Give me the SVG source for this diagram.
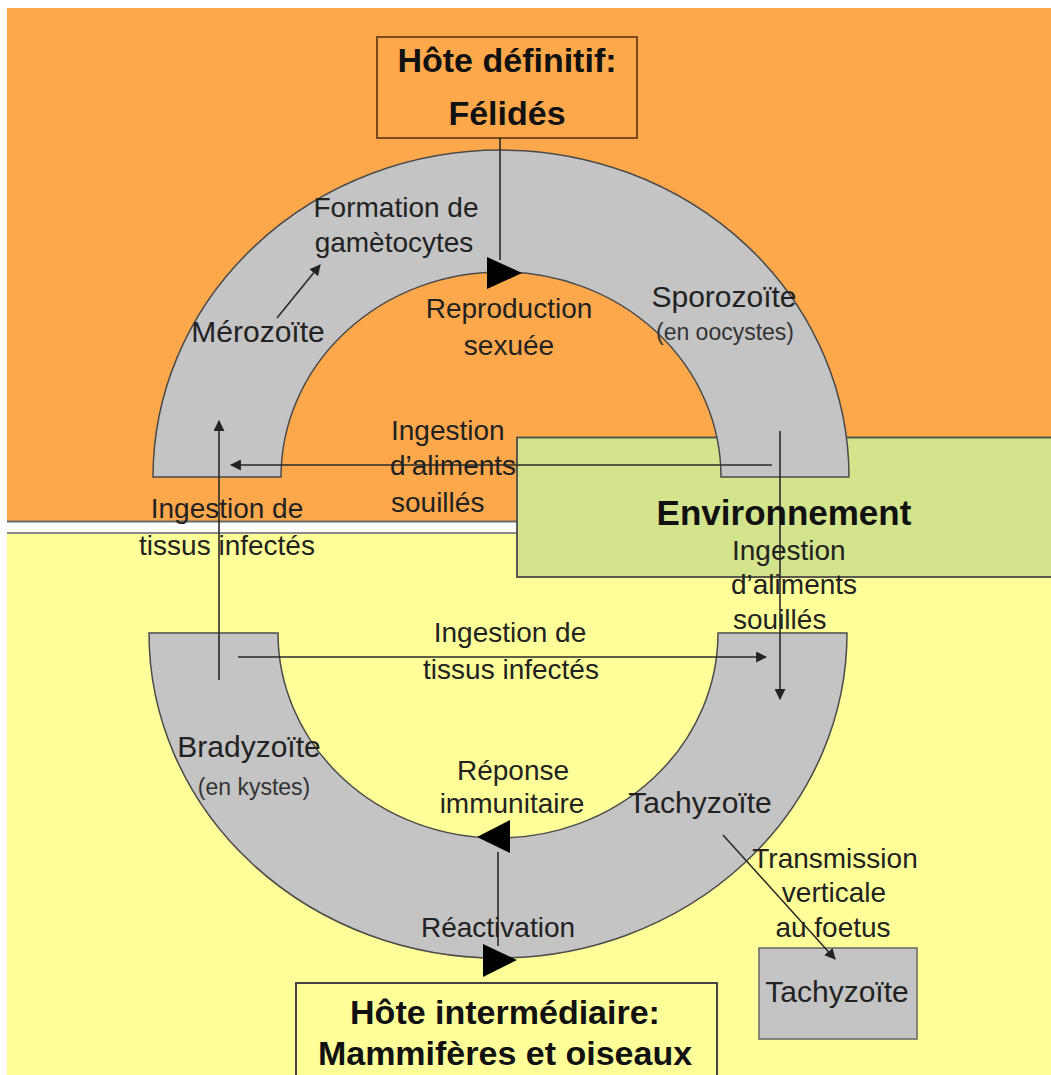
<svg xmlns="http://www.w3.org/2000/svg" width="1051" height="1075" viewBox="0 0 1051 1075">
<defs>
<style>
text { font-family: "Liberation Sans", Arial, sans-serif; fill:#222; }
.lbl { font-size:28px; }
.lg { font-size:30px; }
.sm { font-size:23px; fill:#333; }
.big { font-size:34px; font-weight:bold; fill:#111; }
.env { font-size:35px; font-weight:bold; fill:#111; }
.c { text-anchor:middle; }
.conn { stroke:#2a2a2a; stroke-width:1.6; fill:none; }
.arc { fill:#c4c4c4; stroke:#4a4a4a; stroke-width:1.5; }
.tri { fill:#000; }
</style>
<marker id="ah" viewBox="0 0 10 10" refX="9" refY="5" markerWidth="11" markerHeight="11" markerUnits="userSpaceOnUse" orient="auto"><path d="M0,0 L10,5 L0,10 z" fill="#222"/></marker>
</defs>

<g id="background">
<rect x="0" y="0" width="1051" height="1075" fill="#ffffff"/>
<rect x="7" y="8" width="1044" height="514" fill="#FDA84A"/>
<line x1="7" y1="521.5" x2="1051" y2="521.5" stroke="#6a6a6a" stroke-width="2"/>
<rect x="7" y="534" width="1044" height="541" fill="#FFFF99"/>
<line x1="7" y1="533" x2="1051" y2="533" stroke="#8a8a8a" stroke-width="2"/>
</g>

<g id="environnement">
<rect x="517" y="437.5" width="536" height="139.5" fill="#D3E48C" stroke="#4a4a4a" stroke-width="1.8"/>
</g>

<g id="hote-definitif-cycle">
<path class="arc" d="M153,477 A348,327 0 0 1 849,477 L721,477 A220,205 0 0 0 281,477 Z"/>
</g>

<g id="hote-intermediaire-cycle">
<path class="arc" d="M149,633 A349,325 0 0 0 847,633 L718,633 A220,205 0 0 1 278,633 Z"/>
</g>

<g id="hote-definitif">
<rect x="377" y="37" width="260" height="101" fill="none" stroke="#7a4a1e" stroke-width="2"/>
<text class="big c" x="507" y="72">Hôte définitif:</text>
<text class="big c" x="507" y="125">Félidés</text>
</g>

<g id="hote-intermediaire">
<rect x="296" y="983" width="421" height="100" fill="none" stroke="#444" stroke-width="2"/>
<text class="big c" x="505" y="1024">Hôte intermédiaire:</text>
<text class="big c" x="505" y="1065">Mammifères et oiseaux</text>
</g>

<g id="tachyzoite-foetus">
<rect x="759" y="948" width="158" height="91" fill="#c4c4c4" stroke="#666" stroke-width="1.5"/>
<text class="lg c" x="837" y="1002">Tachyzoïte</text>
</g>

<g id="connectors">
<line class="conn" x1="500" y1="138" x2="500" y2="260"/>
<polygon class="tri" points="487,257 522,273 487,289"/>
<line class="conn" x1="498" y1="852" x2="498" y2="946"/>
<polygon class="tri" points="510,820 477,837 510,853"/>
<polygon class="tri" points="483,944 517,960 483,977"/>
<line class="conn" x1="277" y1="318" x2="320" y2="265" marker-end="url(#ah)"/>
<line class="conn" x1="219" y1="680" x2="219" y2="421" marker-end="url(#ah)"/>
<line class="conn" x1="772" y1="465" x2="231" y2="465" marker-end="url(#ah)"/>
<line class="conn" x1="780" y1="431" x2="780" y2="699" marker-end="url(#ah)"/>
<line class="conn" x1="238" y1="657" x2="766" y2="657" marker-end="url(#ah)"/>
<line class="conn" x1="723" y1="835" x2="835" y2="959" marker-end="url(#ah)"/>
</g>

<g id="labels">
<text class="lbl c" x="396" y="217">Formation de</text>
<text class="lbl c" x="394" y="252">gamètocytes</text>
<text class="lbl c" x="258" y="342" style="font-size:30px">Mérozoïte</text>
<text class="lbl c" x="509" y="318">Reproduction</text>
<text class="lbl c" x="509" y="355">sexuée</text>
<text class="lbl c" x="724" y="307" style="font-size:30px">Sporozoïte</text>
<text class="sm c" x="725" y="340">(en oocystes)</text>
<text class="lbl" x="391" y="440">Ingestion</text>
<text class="lbl" x="390" y="475">d’aliments</text>
<text class="lbl" x="391" y="512">souillés</text>
<text class="lbl c" x="227" y="518">Ingestion de</text>
<text class="lbl c" x="227" y="555">tissus infectés</text>
<text class="env c" x="784" y="525">Environnement</text>
<text class="lbl" x="732" y="560">Ingestion</text>
<text class="lbl" x="731" y="594">d’aliments</text>
<text class="lbl" x="733" y="629">souillés</text>
<text class="lbl c" x="510" y="642">Ingestion de</text>
<text class="lbl c" x="511" y="679">tissus infectés</text>
<text class="lg c" x="249" y="757">Bradyzoïte</text>
<text class="sm c" x="254" y="795">(en kystes)</text>
<text class="lbl c" x="513" y="780">Réponse</text>
<text class="lbl c" x="512" y="813">immunitaire</text>
<text class="lg c" x="700" y="813">Tachyzoïte</text>
<text class="lbl c" x="835" y="868">Transmission</text>
<text class="lbl c" x="834" y="902">verticale</text>
<text class="lbl c" x="833" y="937">au foetus</text>
<text class="lbl c" x="498" y="937">Réactivation</text>
</g>
</svg>
